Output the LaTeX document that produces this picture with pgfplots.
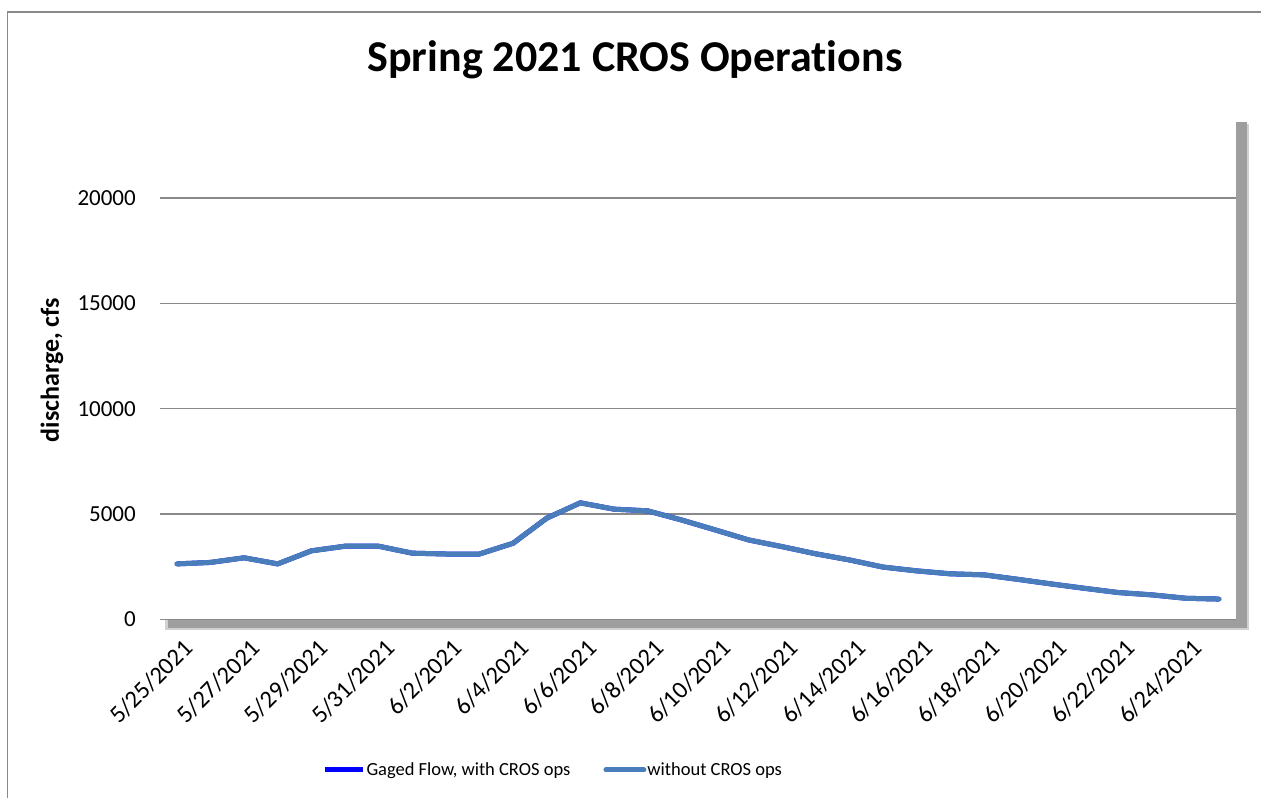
\documentclass[border=0pt]{standalone}
\usepackage{pgfplots}
\pgfplotsset{compat=1.18}
\usepackage{fontspec}
\setmainfont[Ligatures=NoCommon]{Carlito}
\definecolor{noCROS}{HTML}{4A7EBB}
\definecolor{gaged}{HTML}{0000FF}
\definecolor{gridc}{HTML}{898989}
\pgfplotstableread{
x y
0 2630
1 2700
2 2920
3 2630
4 3250
5 3470
6 3470
7 3140
8 3100
9 3100
10 3610
11 4800
12 5530
13 5230
14 5150
15 4720
16 4250
17 3770
18 3450
19 3110
20 2820
21 2480
22 2300
23 2160
24 2110
25 1900
26 1680
27 1470
28 1270
29 1160
30 1000
31 960
}\flowdata
\begin{document}
\begin{tikzpicture}[x=1pt,y=1pt]
\useasboundingbox (0,0) rectangle (1261,798);
% outer chart border (top and left visible)
\draw[gridc, line width=1.5pt] (7.5,0) -- (7.5,786) -- (1261,786);
% plot area shadow
\fill[black!18] (165,167.5) rectangle (1249,674.2);
\fill[black!38] (168,169.7) rectangle (1246.5,676);
\begin{axis}[
  at={(160pt,178.7pt)}, anchor=south west,
  scale only axis, width=1076pt, height=505.5pt,
  xmin=-0.5, xmax=31.5, ymin=0, ymax=24000,
  axis background/.style={fill=white},
  axis line style={draw=none},
  ytick={0,5000,10000,15000,20000},
  ymajorgrids, major grid style={gridc, line width=1.5pt},
  major tick length=0pt,
  xtick={0,2,...,30},
  xticklabels={5/25/2021,5/27/2021,5/29/2021,5/31/2021,6/2/2021,6/4/2021,6/6/2021,6/8/2021,6/10/2021,6/12/2021,6/14/2021,6/16/2021,6/18/2021,6/20/2021,6/22/2021,6/24/2021},
  xticklabel style={xshift=12pt, yshift=-25pt, rotate=45, anchor=east, font=\fontsize{24.5}{24.5}\selectfont, inner sep=0pt},
  yticklabel style={font=\fontsize{23}{23}\selectfont, inner sep=0pt, xshift=-24pt},
  /pgf/number format/assume math mode=true,
  /pgf/number format/1000 sep={},
  scaled y ticks=false,
  legend columns=2,
  legend style={at={(axis description cs:0.365,-0.298)}, anchor=center, draw=none, fill=none,
    font=\fontsize{18.5}{18.5}\selectfont, nodes={inner sep=1pt},
    /tikz/every even column/.append style={column sep=32pt}},
  legend image code/.code={\draw[#1, line width=5pt] (0pt,0pt) -- (38pt,0pt);},
]
\addplot[gaged, line width=5pt] table[x=x,y=y] {\flowdata};
\addlegendentry{Gaged Flow, with CROS ops}
\addplot[noCROS, line width=5pt, line join=round, line cap=round] table[x=x,y=y] {\flowdata};
\addlegendentry{without CROS ops}
\end{axis}
\node[font=\bfseries\fontsize{44}{44}\selectfont] at (635,738) {Spring 2021 CROS Operations};
\node[font=\bfseries\fontsize{26}{26}\selectfont, rotate=90] at (52,428) {discharge, cfs};
\end{tikzpicture}
\end{document}
